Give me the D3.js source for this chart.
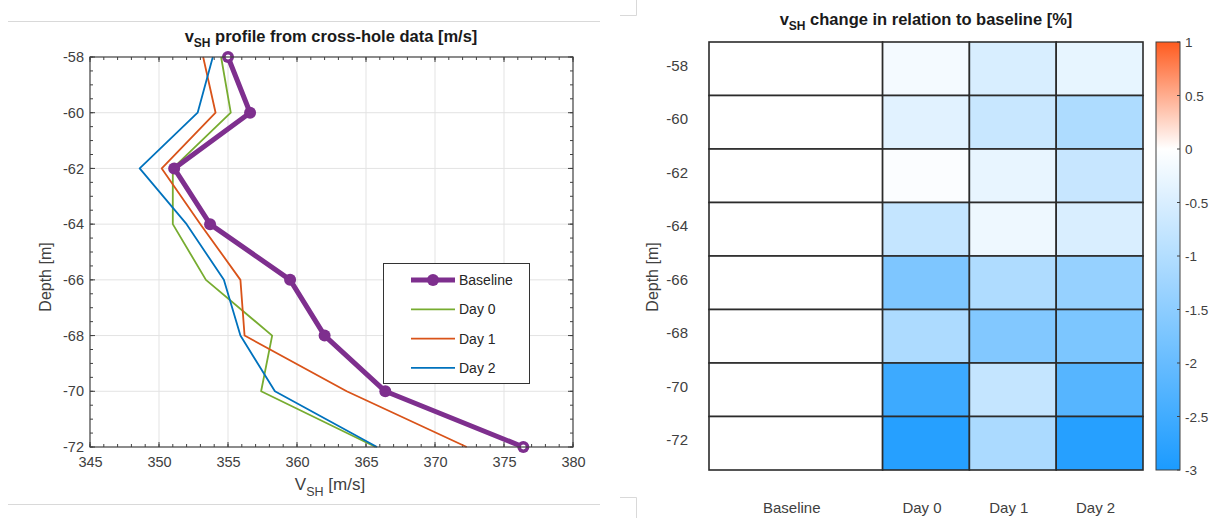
<!DOCTYPE html>
<html>
<head>
<meta charset="utf-8">
<script src="https://cdnjs.cloudflare.com/ajax/libs/d3/7.8.5/d3.min.js"></script>
<style>
  html, body { margin: 0; padding: 0; background: #fff; }
  svg { display: block; font-family: "Liberation Sans", Arial, Helvetica, sans-serif; }
</style>
</head>
<body>
<svg id="chart" width="1211" height="518"></svg>
<script>
// Depth levels of the cross-hole survey [m]
const depths = [-58, -60, -62, -64, -66, -68, -70, -72];

// Shear-wave velocity profiles [m/s] at each depth
const baseline = [355.0, 356.6, 351.1, 353.7, 359.5, 362.0, 366.4, 376.4];
const day0     = [354.5, 355.2, 351.0, 351.0, 353.4, 358.2, 357.4, 365.7];
const day1     = [353.2, 354.1, 350.2, 353.0, 355.9, 356.2, 363.6, 372.3];
const day2     = [353.9, 352.8, 348.6, 352.0, 354.7, 355.9, 358.4, 365.8];

// Relative change of v_SH against the baseline [%]
const changeBaseline = [0, 0, 0, 0, 0, 0, 0, 0];
const changeDay0 = [-0.14, -0.39, -0.05, -0.77, -1.70, -1.08, -2.55, -2.85];
const changeDay1 = [-0.51, -0.72, -0.30, -0.22, -1.05, -1.65, -0.77, -1.10];
const changeDay2 = [-0.31, -1.06, -0.74, -0.50, -1.38, -1.72, -2.22, -2.85];

const seriesNames = ["Baseline", "Day 0", "Day 1", "Day 2"];
const xTicks = [345, 350, 355, 360, 365, 370, 375, 380];
const yTicks = [-58, -60, -62, -64, -66, -68, -70, -72];
const cbTicks = [1, 0.5, 0, -0.5, -1, -1.5, -2, -2.5, -3];

const svg = d3.select("#chart");
const axisCol = "#404040";

// Faint page frame lines around the left figure
svg.append("line").attr("x1", 8).attr("x2", 600).attr("y1", 21.5).attr("y2", 21.5)
  .attr("stroke", "#d9d9d9").attr("stroke-width", 1);
svg.append("line").attr("x1", 8).attr("x2", 600).attr("y1", 504.5).attr("y2", 504.5)
  .attr("stroke", "#d9d9d9").attr("stroke-width", 1);
svg.append("path").attr("d", "M636.5,0 V15.5 H620").attr("fill", "none").attr("stroke", "#d9d9d9");
svg.append("path").attr("d", "M620,497.5 H636.5 V518").attr("fill", "none").attr("stroke", "#d9d9d9");

// ---------- Left: velocity profile ----------
const L = { x0: 90, x1: 573, y0: 57, y1: 447 };
const x = d3.scaleLinear().domain([345, 380]).range([L.x0, L.x1]);
const y = d3.scaleLinear().domain([-72, -58]).range([L.y1, L.y0]);

const left = svg.append("g");

// grid
left.append("g").selectAll("line").data(xTicks.slice(1, -1)).join("line")
  .attr("x1", d => x(d)).attr("x2", d => x(d)).attr("y1", L.y0).attr("y2", L.y1)
  .attr("stroke", "#e3e3e3").attr("stroke-width", 1);
left.append("g").selectAll("line").data(yTicks.slice(1, -1)).join("line")
  .attr("y1", d => y(d)).attr("y2", d => y(d)).attr("x1", L.x0).attr("x2", L.x1)
  .attr("stroke", "#e3e3e3").attr("stroke-width", 1);

// axes with inward ticks on all four sides
const xMinor = d3.range(345, 380.01, 1);
const yMinor = d3.range(-72, -57.99, 0.5);
function tickSide(g, scale, vals, orient, len) {
  g.selectAll(null).data(vals).join("line")
    .attr("stroke", axisCol).attr("stroke-width", 1)
    .each(function (d) {
      const s = d3.select(this);
      if (orient === "bottom") s.attr("x1", scale(d)).attr("x2", scale(d)).attr("y1", L.y1).attr("y2", L.y1 - len);
      if (orient === "top") s.attr("x1", scale(d)).attr("x2", scale(d)).attr("y1", L.y0).attr("y2", L.y0 + len);
      if (orient === "left") s.attr("y1", scale(d)).attr("y2", scale(d)).attr("x1", L.x0).attr("x2", L.x0 + len);
      if (orient === "right") s.attr("y1", scale(d)).attr("y2", scale(d)).attr("x1", L.x1).attr("x2", L.x1 - len);
    });
}
const tg = left.append("g");
tickSide(tg, x, xMinor, "bottom", 3); tickSide(tg, x, xMinor, "top", 3);
tickSide(tg, x, xTicks, "bottom", 5); tickSide(tg, x, xTicks, "top", 5);
tickSide(tg, y, yMinor, "left", 3); tickSide(tg, y, yMinor, "right", 3);
tickSide(tg, y, yTicks, "left", 5); tickSide(tg, y, yTicks, "right", 5);

// tick labels via d3 axes (lines hidden, box drawn separately)
const xAxis = left.append("g").attr("transform", `translate(0,${L.y1})`)
  .call(d3.axisBottom(x).tickValues(xTicks).tickSize(0).tickPadding(10));
const yAxis = left.append("g").attr("transform", `translate(${L.x0},0)`)
  .call(d3.axisLeft(y).tickValues(yTicks).tickSize(0).tickPadding(6).tickFormat(d => d));
[xAxis, yAxis].forEach(a => {
  a.select(".domain").remove();
  a.selectAll("text").attr("fill", axisCol).attr("font-size", 14.5)
    .attr("font-family", "Liberation Sans, Arial, sans-serif");
});
yAxis.selectAll("text").text(d => "-" + Math.abs(d));

// profiles
const profiles = [
  { name: "Day 0", vals: day0, color: "#77AC30", w: 1.8 },
  { name: "Day 1", vals: day1, color: "#D95319", w: 1.8 },
  { name: "Day 2", vals: day2, color: "#0072BD", w: 1.8 },
  { name: "Baseline", vals: baseline, color: "#7E2F8E", w: 5 }
];
const line = d3.line().x(d => x(d[0])).y(d => y(d[1]));
profiles.forEach(p => {
  const pts = p.vals.map((v, i) => [v, depths[i]]);
  left.append("path").datum(pts).attr("d", line)
    .attr("fill", "none").attr("stroke", p.color).attr("stroke-width", p.w)
    .attr("stroke-linejoin", "round");
  if (p.name === "Baseline") {
    left.append("g").selectAll("circle").data(pts).join("circle")
      .attr("cx", d => x(d[0])).attr("cy", d => y(d[1])).attr("r", 6)
      .attr("fill", p.color);
    // end markers sit on the box edge and render as rings
    left.append("g").selectAll("circle").data([pts[0], pts[pts.length - 1]]).join("circle")
      .attr("cx", d => x(d[0])).attr("cy", d => y(d[1])).attr("r", 2.4)
      .attr("fill", "#fff");
  }
});

// box
left.append("rect").attr("x", L.x0).attr("y", L.y0)
  .attr("width", L.x1 - L.x0).attr("height", L.y1 - L.y0)
  .attr("fill", "none").attr("stroke", axisCol).attr("stroke-width", 1.2);

// title and axis labels
const t1 = left.append("text").attr("x", 331).attr("y", 42).attr("text-anchor", "middle")
  .attr("font-weight", "bold").attr("font-size", 16.5).attr("fill", "#1a1a1a");
t1.append("tspan").text("v");
t1.append("tspan").attr("font-size", 12).attr("dy", 5).text("SH");
t1.append("tspan").attr("dy", -5).text(" profile from cross-hole data [m/s]");

const xl = left.append("text").attr("x", 330).attr("y", 490).attr("text-anchor", "middle")
  .attr("font-size", 17).attr("fill", axisCol);
xl.append("tspan").text("V");
xl.append("tspan").attr("font-size", 12.5).attr("dy", 6).text("SH");
xl.append("tspan").attr("dy", -6).text(" [m/s]");

left.append("text").attr("transform", `translate(51,${(L.y0 + L.y1) / 2 + 25}) rotate(-90)`)
  .attr("text-anchor", "middle").attr("font-size", 16).attr("fill", axisCol).text("Depth [m]");

// legend
const lg = left.append("g");
lg.append("rect").attr("x", 383.5).attr("y", 263.5).attr("width", 146).attr("height", 120)
  .attr("fill", "#fff").attr("stroke", "#333").attr("stroke-width", 1);
const legendItems = [profiles[3], profiles[0], profiles[1], profiles[2]];
legendItems.forEach((p, i) => {
  const ly = 280 + i * 29.3;
  lg.append("line").attr("x1", 411).attr("x2", 455).attr("y1", ly).attr("y2", ly)
    .attr("stroke", p.color).attr("stroke-width", p.w);
  if (p.name === "Baseline") {
    lg.append("circle").attr("cx", 433).attr("cy", ly).attr("r", 6).attr("fill", p.color);
  }
  lg.append("text").attr("x", 459).attr("y", ly + 5).attr("font-size", 14)
    .attr("fill", "#262626").text(p.name);
});

// ---------- Right: relative change heat map ----------
const R = { x0: 709, x1: 1143, y0: 42, y1: 470 };
const changeCols = [changeBaseline, changeDay0, changeDay1, changeDay2];
// baseline column spans two units, the days one unit each
const colSpan = [[0, 2], [2, 3], [3, 4], [4, 5]];
const hx = d3.scaleLinear().domain([0, 5]).range([R.x0, R.x1]);
const hy = d3.scaleBand().domain(depths).range([R.y0, R.y1]);
const color = d3.scaleLinear().domain([-3, 0, 1])
  .range(["#1b9bff", "#ffffff", "#ff5b1f"]).clamp(true);

const right = svg.append("g");
const cells = [];
changeCols.forEach((col, ci) => col.forEach((v, ri) => cells.push({ ci, ri, v })));
right.append("g").selectAll("rect").data(cells).join("rect")
  .attr("x", d => hx(colSpan[d.ci][0])).attr("width", d => hx(colSpan[d.ci][1]) - hx(colSpan[d.ci][0]))
  .attr("y", d => hy(depths[d.ri])).attr("height", hy.bandwidth())
  .attr("fill", d => color(d.v)).attr("stroke", "#2b2b2b").attr("stroke-width", 1.6);

right.append("g").selectAll("text").data(depths).join("text")
  .attr("x", 688).attr("y", d => hy(d) + hy.bandwidth() / 2 + 2)
  .attr("text-anchor", "end").attr("font-size", 15).attr("fill", axisCol)
  .text(d => "-" + Math.abs(d));

right.append("g").selectAll("text").data(seriesNames).join("text")
  .attr("x", (d, i) => (hx(colSpan[i][0]) + hx(colSpan[i][1])) / 2 - 4)
  .attr("y", 513).attr("text-anchor", "middle").attr("font-size", 15).attr("fill", axisCol)
  .text(d => d);

right.append("text").attr("transform", `translate(658,${(R.y0 + R.y1) / 2 + 21}) rotate(-90)`)
  .attr("text-anchor", "middle").attr("font-size", 16).attr("fill", axisCol).text("Depth [m]");

const t2 = right.append("text").attr("x", 926).attr("y", 25).attr("text-anchor", "middle")
  .attr("font-weight", "bold").attr("font-size", 16.5).attr("fill", "#1a1a1a");
t2.append("tspan").text("v");
t2.append("tspan").attr("font-size", 12).attr("dy", 5).text("SH");
t2.append("tspan").attr("dy", -5).text(" change in relation to baseline [%]");

// colour bar
const cb = { x0: 1156, x1: 1180 };
const cy = d3.scaleLinear().domain([-3, 1]).range([R.y1, R.y0]);
const defs = svg.append("defs");
const grad = defs.append("linearGradient").attr("id", "cbgrad")
  .attr("x1", 0).attr("x2", 0).attr("y1", 1).attr("y2", 0);
d3.range(-3, 1.001, 0.25).forEach(v => {
  grad.append("stop").attr("offset", (v + 3) / 4).attr("stop-color", color(v));
});
right.append("rect").attr("x", cb.x0).attr("y", R.y0).attr("width", cb.x1 - cb.x0)
  .attr("height", R.y1 - R.y0).attr("fill", "url(#cbgrad)")
  .attr("stroke", "#404040").attr("stroke-width", 1);
right.append("g").selectAll("line").data(cbTicks).join("line")
  .attr("x1", cb.x1 - 3).attr("x2", cb.x1).attr("y1", d => cy(d)).attr("y2", d => cy(d))
  .attr("stroke", "#404040");
right.append("g").selectAll("text").data(cbTicks).join("text")
  .attr("x", 1185).attr("y", d => cy(d) + 5).attr("font-size", 13.5).attr("fill", axisCol)
  .text(d => d);
</script>
</body>
</html>
